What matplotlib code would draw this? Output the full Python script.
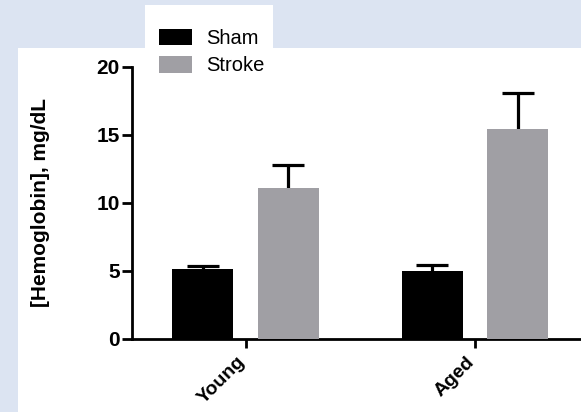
import matplotlib
matplotlib.use("Agg")
import matplotlib.pyplot as plt
from matplotlib.patches import Rectangle, Patch
from matplotlib.transforms import ScaledTranslation
import numpy as np

groups = ["Young", "Aged"]
series = ["Sham", "Stroke"]
sham_mean = [5.12, 4.99]
sham_err = [0.24, 0.42]
stroke_mean = [11.06, 15.41]
stroke_err = [1.70, 2.65]
yticks = [0, 5, 10, 15, 20]

plt.rcParams['font.family'] = ['Liberation Sans', 'DejaVu Sans']

W, H = 581, 412
fig = plt.figure(figsize=(W / 100, H / 100), dpi=100)
fig.patch.set_facecolor('#dce4f2')

# white panels
fig.patches.append(Rectangle((18 / W, 0), 1 - 18 / W, (H - 48) / H,
                             transform=fig.transFigure, facecolor='white',
                             edgecolor='none', zorder=-10))
fig.patches.append(Rectangle((145 / W, (H - 49) / H), (273 - 145) / W, (49 - 5) / H,
                             transform=fig.transFigure, facecolor='white',
                             edgecolor='none', zorder=-10))

ax = fig.add_axes([131.5 / W, 73.5 / H, 1 - 131.5 / W, (345 - 73.5) / H])
ax.set_facecolor('none')
ax.set_zorder(5)

x = np.arange(len(groups))
bw = 0.266
off = 0.186
gray = '#a09fa4'
ekw = dict(fmt='none', elinewidth=2.3, capthick=2.3, ecolor='black',
           capsize=11.5, zorder=2)
ax.bar(x - off, sham_mean, bw, color='black', zorder=3)
ax.bar(x + off, stroke_mean, bw, color=gray, zorder=3)
ax.errorbar(x - off, sham_mean, yerr=sham_err, **ekw)
ax.errorbar(x + off, stroke_mean, yerr=stroke_err, **ekw)

ax.set_xlim(-0.497, 1.462)
ax.set_ylim(0, 20)
ax.set_yticks(yticks)
ax.set_yticklabels([str(v) for v in yticks], fontsize=15, fontweight='bold')
ax.set_xticks(x)
ax.set_xticklabels([''] * len(groups))
shift = ScaledTranslation(-9 / 100, -15 / 100, fig.dpi_scale_trans)
for xi, g in zip(x, groups):
    ax.text(xi, 0, g, transform=ax.get_xaxis_transform() + shift,
            fontsize=14, fontweight='bold', rotation=45, ha='right', va='top',
            rotation_mode='anchor', clip_on=False)
for s in ['top', 'right']:
    ax.spines[s].set_visible(False)
for s in ['left', 'bottom']:
    ax.spines[s].set_linewidth(2.0)
ax.tick_params(axis='y', direction='out', length=7.5, width=2.0, pad=1)
ax.tick_params(axis='x', direction='out', length=6.5, width=2.0)
ax.set_ylabel("[Hemoglobin], mg/dL", fontsize=15, fontweight='bold')
ax.yaxis.set_label_coords(-0.181, 0.5)

handles = [Patch(facecolor='black', edgecolor='none'),
           Patch(facecolor=gray, edgecolor='none')]
leg = fig.legend(handles, series, loc='upper left',
                 bbox_to_anchor=(159 / W, 1 - 29 / H), frameon=False,
                 fontsize=14.5, handlelength=1.65, handleheight=0.85,
                 handletextpad=0.7, labelspacing=0.42, borderpad=0, borderaxespad=0)
leg.set_zorder(10)

fig.savefig("out.png", dpi=100, facecolor=fig.get_facecolor())
